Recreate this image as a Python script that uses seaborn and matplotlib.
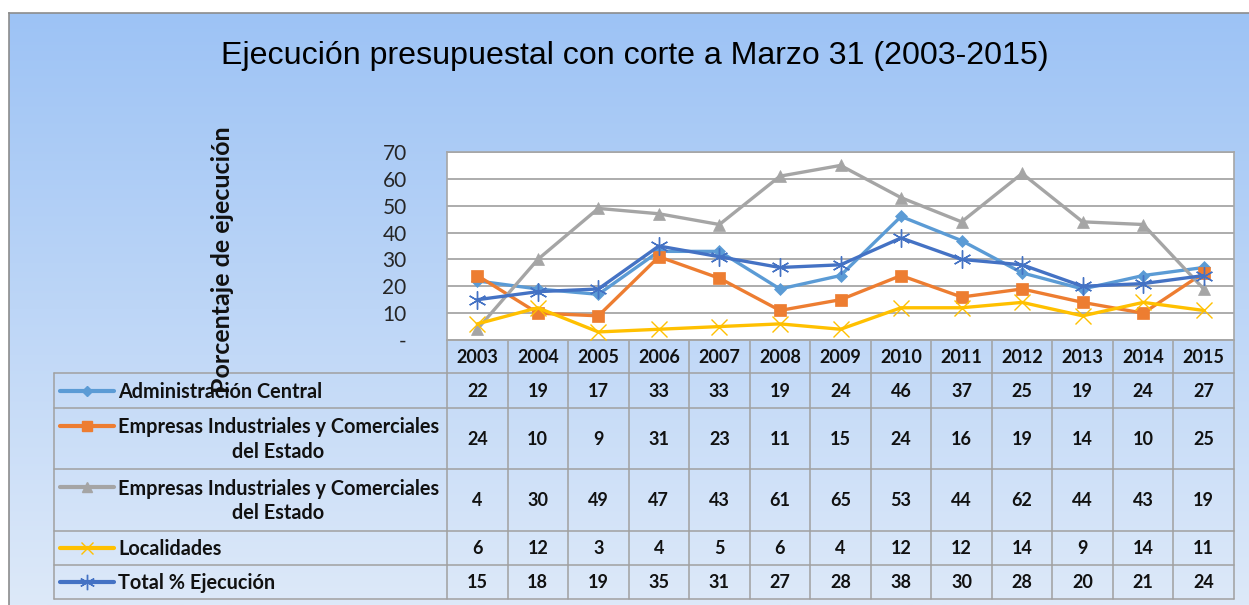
import numpy as np
import pandas as pd
import matplotlib
matplotlib.use("Agg")
import matplotlib.pyplot as plt
from matplotlib.colors import LinearSegmentedColormap
import seaborn as sns

# ---------------- data ----------------
years = ["2003", "2004", "2005", "2006", "2007", "2008", "2009",
         "2010", "2011", "2012", "2013", "2014", "2015"]
admin_central = [22, 19, 17, 33, 33, 19, 24, 46, 37, 25, 19, 24, 27]
empresas_1 = [24, 10, 9, 31, 23, 11, 15, 24, 16, 19, 14, 10, 25]
empresas_2 = [4, 30, 49, 47, 43, 61, 65, 53, 44, 62, 44, 43, 19]
localidades = [6, 12, 3, 4, 5, 6, 4, 12, 12, 14, 9, 14, 11]
total = [15, 18, 19, 35, 31, 27, 28, 38, 30, 28, 20, 21, 24]

series_names = ["Administración Central",
                "Empresas Industriales y Comerciales\ndel Estado",
                "Empresas Industriales y Comerciales\ndel Estado",
                "Localidades",
                "Total % Ejecución"]
series_values = [admin_central, empresas_1, empresas_2, localidades, total]
y_ticks = [0, 10, 20, 30, 40, 50, 60, 70]
y_ticklabels = ["-", "10", "20", "30", "40", "50", "60", "70"]
title = "Ejecución presupuestal con corte a Marzo 31 (2003-2015)"
y_label = "Porcentaje de ejecución"

# ---------------- styles ----------------
colors = ["#5B9BD5", "#ED7D31", "#A5A5A5", "#FFC000", "#4472C4"]
markers = ["D", "s", "^", "x", (6, 2, 0)]
msizes = [6, 9, 9, 11, 13]

W, H = 1249, 605
sns.set_theme(style="white")
plt.rcParams["font.family"] = ["Lato", "DejaVu Sans"]

fig = plt.figure(figsize=(W / 100, H / 100), dpi=100)
fig.patch.set_facecolor("white")

def fx(px):
    return px / W

def fy(py):
    return 1 - py / H

# background box with gradient
bg = fig.add_axes([fx(9), 0, fx(W - 9 + 5), fy(13)])
grad = np.linspace(0, 1, 256).reshape(-1, 1)
cmap = LinearSegmentedColormap.from_list("bgc", ["#9DC3F5", "#DDE9F9"])
bg.imshow(grad, aspect="auto", cmap=cmap, extent=[0, 1, 1, 0])
bg.set_xlim(0, 1)
bg.set_ylim(1, 0)
bg.set_xticks([])
bg.set_yticks([])
for s in ["bottom", "right"]:
    bg.spines[s].set_visible(False)
for s in ["top", "left"]:
    bg.spines[s].set_color("#8C8C8C")
    bg.spines[s].set_linewidth(1.2)
bg.set_zorder(0)

# main plot axes
PL, PR, PT, PB = 447, 1234, 152, 340
ax = fig.add_axes([fx(PL), fy(PB), fx(PR - PL), (PB - PT) / H])
ax.set_zorder(2)
ax.set_facecolor("white")
x = np.arange(len(years))
for name, vals, c, m, ms in zip(series_names, series_values, colors, markers, msizes):
    df = pd.DataFrame({"x": x, "y": vals})
    sns.lineplot(data=df, x="x", y="y", ax=ax, color=c, linewidth=2.4,
                 marker=m, markersize=ms, markeredgecolor=c,
                 markeredgewidth=1.0 if m in ("x", (6, 2, 0)) else 0.5,
                 legend=False, zorder=3)
ax.set_xlim(-0.5, len(years) - 0.5)
ax.set_ylim(0, 70)
ax.set_yticks(y_ticks)
ax.set_yticklabels(y_ticklabels, fontsize=15, fontfamily=["Lato", "DejaVu Sans"])
ax.tick_params(axis="y", length=0, pad=29)
ax.set_xticks([])
ax.set_xlabel("")
ax.set_ylabel("")
for t in ax.get_yticklabels():
    t.set_horizontalalignment("right")
ax.yaxis.grid(True, color="#A6A6A6", linewidth=1.3)
ax.set_axisbelow(True)
for s in ax.spines.values():
    s.set_color("#A6A6A6")
    s.set_linewidth(1.2)

# data table axes (pixel y coords, category x coords)
TL, TB = 54, 599
tab = fig.add_axes([fx(TL), fy(TB), fx(PR - TL), (TB - PB) / H])
tab.set_zorder(1)
tab.patch.set_alpha(0)
step = (PR - PL) / len(years)
left_unit = -0.5 - (PL - TL) / step
tab.set_xlim(left_unit, len(years) - 0.5)
tab.set_ylim(TB, PB)
tab.axis("off")

rows = [PB, 373, 408, 469, 531, 565, 599]
gc = "#A0A0A0"
lw = 1.1
# horizontal lines
tab.plot([-0.5, len(years) - 0.5], [rows[0], rows[0]], color=gc, lw=lw)
for r in rows[1:]:
    tab.plot([left_unit, len(years) - 0.5], [r, r], color=gc, lw=lw, clip_on=False)
# vertical lines
tab.plot([left_unit, left_unit], [rows[1], rows[-1]], color=gc, lw=lw, clip_on=False)
for i in range(len(years) + 1):
    xv = -0.5 + i
    tab.plot([xv, xv], [rows[0], rows[-1]], color=gc, lw=lw, clip_on=False)

# header
for i, yr in enumerate(years):
    tab.text(i, (rows[0] + rows[1]) / 2 + 1, yr, ha="center", va="center",
             fontsize=13, fontweight="bold", color="#111111")

# rows
sx0 = left_unit + (60 - TL) / step
sx1 = left_unit + (114 - TL) / step
txt_x = left_unit + (118 - TL) / step
for k, (name, vals, c, m, ms) in enumerate(zip(series_names, series_values, colors, markers, msizes)):
    top, bot = rows[k + 1], rows[k + 2]
    yc = (top + bot) / 2
    two = "\n" in name
    ly = yc - 13 if two else yc
    tab.plot([sx0, sx1], [ly, ly], color=c, lw=3, solid_capstyle="round", clip_on=False)
    tab.plot([(sx0 + sx1) / 2], [ly], marker=m, color=c, markersize=ms * 0.85,
             markeredgecolor=c, markeredgewidth=1.0, clip_on=False)
    tab.text(txt_x, yc + 1, name, ha="left", va="center", multialignment="center",
             fontsize=14.3, fontweight="bold", color="#111111", linespacing=1.3)
    for i, v in enumerate(vals):
        tab.text(i, yc + 1, str(v), ha="center", va="center",
                 fontsize=13, fontweight="bold", color="#111111")

# title and y label
fig.text(fx(635), fy(56), title, ha="center", va="center", fontsize=23.1,
         family=["Liberation Sans", "DejaVu Sans"], color="black")
fig.text(fx(222), fy(260), y_label, rotation=90, ha="center", va="center",
         fontsize=18, fontweight="bold", color="#111111", zorder=5)

fig.savefig("out.png", dpi=100, facecolor="white")
